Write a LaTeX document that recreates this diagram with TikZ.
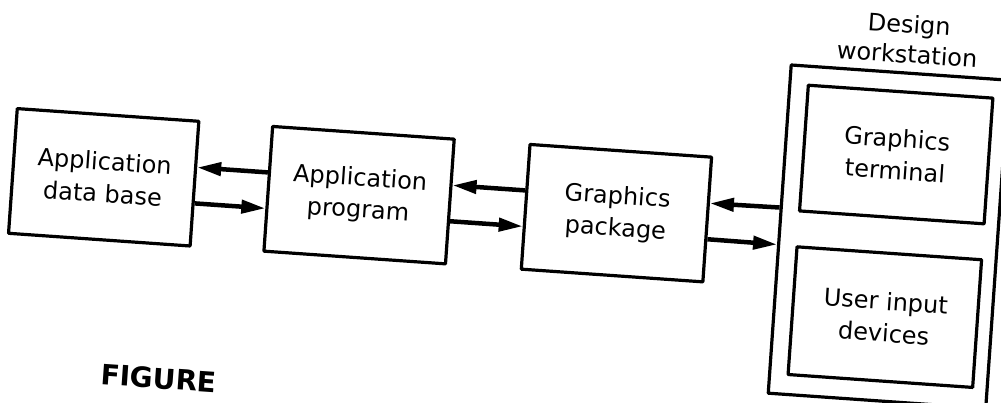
\documentclass[tikz,border=0pt]{standalone}
\usepackage{fontspec}
\setmainfont{DejaVu Sans}
\usetikzlibrary{arrows.meta}
\begin{document}
\begin{tikzpicture}[x=1pt, y=1pt, line join=round, >={Triangle[length=24pt,width=13pt]},
		box/.style={draw, line width=3.2pt, minimum width=182pt, minimum height=125pt, align=center, font=\fontsize{24}{32}\selectfont},
		link/.style={->, line width=4.5pt}]
		\useasboundingbox (0,0) rectangle (1001,402);
		\begin{scope}[shift={(500,201)}, rotate=-4, transform shape]
			\node[box] (base) at (-397,-4) {Application\\data base};
			\node[box] (prog) at (-141,-4) {Application\\program};
			\node[box] (pack) at (117,-4) {Graphics\\package};
			\node[box, minimum width=218pt, minimum height=329pt] (ws) at (390,-8.5) {};
			\node[box, minimum width=185pt, minimum height=126pt] (term) at (392,74) {Graphics\\terminal};
			\node[box, minimum width=185pt, minimum height=128pt] (input) at (392,-89) {User input\\devices};
			\node[align=center, font=\fontsize{24}{30}\selectfont] (wslabel) at (396,190) {Design\\workstation};
			\draw[link] (prog.170)--(base.10);
			\draw[link] (base.348)--(prog.192);
			\draw[link] (pack.170)--(prog.10);
			\draw[link] (prog.348)--(pack.192);
			\draw[link] (ws.169)--(pack.10);
			\draw[link] (pack.348)--(ws.188);
			\node[anchor=north, inner sep=0pt, font=\fontsize{28}{28}\selectfont\bfseries] (fig) at (-328,-190) {FIGURE};
		\end{scope}
\end{tikzpicture}
\end{document}
